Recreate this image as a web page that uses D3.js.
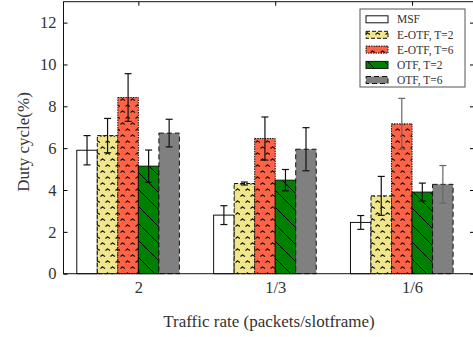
<!DOCTYPE html>
<html>
<head>
<meta charset="utf-8">
<script src="https://cdn.jsdelivr.net/npm/d3@7"></script>
<style>
  body { margin: 0; background: #fff; }
  text { font-family: "Liberation Serif", "DejaVu Serif", serif; fill: #333; }
</style>
</head>
<body>
<div id="chart"></div>
<script>
// data
var categories = ['2', '1/3', '1/6'];
var seriesNames = ['MSF', 'E-OTF, T=2', 'E-OTF, T=6', 'OTF, T=2', 'OTF, T=6'];
var means = [
  [5.9, 2.8, 2.45],   // MSF
  [6.6, 4.31, 3.72],  // E-OTF T=2
  [8.42, 6.46, 7.16], // E-OTF T=6
  [5.14, 4.47, 3.9],  // OTF T=2
  [6.72, 5.95, 4.27]  // OTF T=6
];
var errs = [
  [0.7, 0.45, 0.33],
  [0.82, 0.07, 0.93],
  [1.14, 1.03, 1.22],
  [0.77, 0.51, 0.43],
  [0.66, 1.03, 0.9]
];
var yTicks = [0, 2, 4, 6, 8, 10, 12];

var width = 473, height = 337;
// (window.top is read-only, so no plain "top" here)
var padL = 63.5, padR = 475, padT = 1.7, padB = 273.7;

var svg = d3.select('#chart').append('svg')
    .attr('width', width)
    .attr('height', height);

var x = d3.scaleLinear().domain([0.453, 3.46]).range([padL, padR]);
var y = d3.scaleLinear().domain([0, 13]).range([padB, padT]);
var barW = 0.15;

var fills = ['#ffffff', '#f0e68c', '#ff6347', '#008000', '#808080'];
var dashes = [null, '4,2', '1.5,1', null, '5,3'];
var patterns = [null, 'squig', 'squig', 'hatch', null];

var defs = svg.append('defs');
// little tick marks on the E-OTF bars
[1, 2].forEach(function(i) {
  var p = defs.append('pattern')
      .attr('id', 'squig' + i)
      .attr('patternUnits', 'userSpaceOnUse')
      .attr('width', 10).attr('height', 12);
  p.append('rect').attr('width', 10).attr('height', 12).attr('fill', fills[i]);
  p.append('path')
      .attr('d', 'M0.5,4.5 l2.5,-2 M2.5,3 l2.5,1.5 M5.5,10.5 l2.5,-2 M7.5,9 l2.5,1.5')
      .attr('stroke', '#111').attr('stroke-width', 1.1).attr('fill', 'none');
});
var h = defs.append('pattern')
    .attr('id', 'hatch3')
    .attr('patternUnits', 'userSpaceOnUse')
    .attr('width', 17).attr('height', 17);
h.append('rect').attr('width', 17).attr('height', 17).attr('fill', fills[3]);
h.append('path').attr('d', 'M-1,-1 L18,18 M-1,16 L1,18 M16,-1 L18,1')
    .attr('stroke', '#000').attr('stroke-width', 1);

function fillFor(i) {
  return patterns[i] ? 'url(#' + patterns[i] + i + ')' : fills[i];
}

// bars
seriesNames.forEach(function(name, i) {
  var g = svg.append('g');
  g.selectAll('rect')
    .data(means[i])
    .enter().append('rect')
    .attr('x', function(d, j) { return x(j + 1 + (i - 3) * barW); })
    .attr('width', function(d, j) { return x(j + 1 + (i - 2) * barW) - x(j + 1 + (i - 3) * barW); })
    .attr('y', function(d) { return y(d); })
    .attr('height', function(d) { return y(0) - y(d); })
    .attr('fill', fillFor(i))
    .attr('stroke', '#111')
    .attr('stroke-width', 1)
    .attr('stroke-dasharray', dashes[i]);
});

// error bars
seriesNames.forEach(function(name, i) {
  var g = svg.append('g');
  means[i].forEach(function(m, j) {
    var cx = x(j + 1 + (i - 2.5) * barW);
    var e = errs[i][j];
    var col = (j == 2 && (i == 2 || i == 4)) ? '#666' : '#111';
    g.append('line').attr('x1', cx).attr('x2', cx)
      .attr('y1', y(m - e)).attr('y2', y(m + e))
      .attr('stroke', col).attr('stroke-width', 1.2);
    [m - e, m + e].forEach(function(v) {
      g.append('line').attr('x1', cx - 3.5).attr('x2', cx + 3.5)
        .attr('y1', y(v)).attr('y2', y(v))
        .attr('stroke', col).attr('stroke-width', 1.2);
    });
  });
});

// frame
svg.append('rect')
    .attr('x', padL).attr('y', padT)
    .attr('width', padR - padL).attr('height', padB - padT)
    .attr('fill', 'none').attr('stroke', '#111').attr('stroke-width', 1);

// left axis (ticks inward)
var yAxis = d3.axisLeft(y).tickValues(yTicks).tickSize(-4).tickPadding(7);
svg.append('g')
    .attr('transform', 'translate(' + padL + ',0)')
    .call(yAxis)
    .call(function(g) {
      g.select('.domain').remove();
      g.selectAll('text').style('font-size', '16.5px').attr('fill', '#333')
        .attr('font-family', '"Liberation Serif", serif');
    });

// right axis ticks
svg.append('g')
    .attr('transform', 'translate(' + padR + ',0)')
    .call(d3.axisRight(y).tickValues(yTicks).tickSize(-5).tickFormat(''))
    .call(function(g) { g.select('.domain').remove(); });

// bottom axis
svg.append('g')
    .attr('transform', 'translate(0,' + padB + ')')
    .call(d3.axisBottom(x).tickValues([1, 2, 3]).tickSize(-4).tickPadding(8)
      .tickFormat(function(d) { return categories[d - 1]; }))
    .call(function(g) {
      g.select('.domain').remove();
      g.selectAll('text').style('font-size', '16.5px').attr('fill', '#333')
        .attr('font-family', '"Liberation Serif", serif');
    });

// top ticks
svg.append('g')
    .attr('transform', 'translate(0,' + padT + ')')
    .call(d3.axisTop(x).tickValues([1, 2, 3]).tickSize(-4).tickFormat(''))
    .call(function(g) { g.select('.domain').remove(); });

// axis titles
svg.append('text')
    .attr('transform', 'translate(29,142) rotate(-90)')
    .attr('text-anchor', 'middle')
    .style('font-size', '17px')
    .text('Duty cycle(%)');

svg.append('text')
    .attr('x', 269).attr('y', 327)
    .attr('text-anchor', 'middle')
    .style('font-size', '17px')
    .text('Traffic rate (packets/slotframe)');

// legend
var legend = svg.append('g');
legend.append('rect')
    .attr('x', 360).attr('y', 9).attr('width', 105).attr('height', 78)
    .attr('fill', '#fff').attr('stroke', '#555').attr('stroke-width', 1);
var rowY = [19.3, 34.8, 49.6, 64.9, 80];
seriesNames.forEach(function(name, i) {
  legend.append('rect')
    .attr('x', 366).attr('y', rowY[i] - 3.5).attr('width', 22).attr('height', 7)
    .attr('fill', fillFor(i)).attr('stroke', '#111').attr('stroke-width', 1)
    .attr('stroke-dasharray', dashes[i]);
  legend.append('text')
    .attr('x', 397).attr('y', rowY[i] + 4)
    .style('font-size', '11.5px')
    .text(name);
});
</script>
</body>
</html>
